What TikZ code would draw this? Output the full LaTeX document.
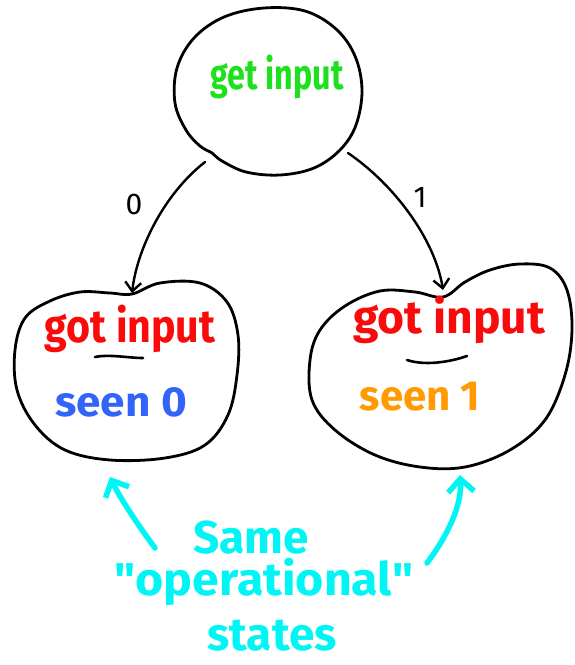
\documentclass[tikz,border=0pt]{standalone}
\usepackage{fontspec}
\setmainfont{Fira Sans}
\usetikzlibrary{arrows.meta}
\definecolor{hgreen}{RGB}{30,225,30}
\definecolor{hred}{RGB}{250,10,10}
\definecolor{hblue}{RGB}{50,100,250}
\definecolor{horange}{RGB}{255,155,0}
\definecolor{hcyan}{RGB}{0,245,245}
\tikzset{
  blob/.style={draw=black, line width=2.8pt, line join=round},
  conn/.style={draw=black, line width=2.4pt, line cap=round, -{Straight Barb[length=9pt,width=16pt,line width=2.4pt]}},
  cyanarrow/.style={draw=hcyan, line width=5.5pt, line cap=round, -{Straight Barb[length=13pt,width=26pt,line width=5.5pt]}},
  txt/.style={inner sep=0pt, font=\fontsize{34}{40}\selectfont\bfseries},
  big/.style={inner sep=0pt, font=\fontsize{42}{48}\selectfont\bfseries},
  lbl/.style={inner sep=0pt, font=\fontsize{30}{34}\selectfont},
  note/.style={inner sep=0pt, text=hcyan, font=\fontsize{46}{50}\selectfont\bfseries},
  uline/.style={draw=black, line width=2.6pt, line cap=round}
}
\begin{document}
\begin{tikzpicture}[x=1pt,y=-1pt]
\useasboundingbox (0,0) rectangle (574,665);
% blobs
\draw[blob] plot[smooth cycle, tension=0.6] coordinates {(212,153) (200,146) (186,130) (175,103) (177,68) (194,38) (224,17) (264,8) (305,11) (336,29) (355,56) (362,90) (356,125) (340,150) (314,168) (280,175) (246,172) (222,161)};
\draw[blob] plot[smooth cycle, tension=0.6] coordinates {(132,294) (160,283) (200,283) (227,302) (238,335) (237,375) (228,415) (205,445) (165,458) (110,460) (65,450) (35,425) (17,390) (15,350) (25,318) (50,301) (80,292) (110,293)};
\draw[blob] plot[smooth cycle, tension=0.6] coordinates {(443,297) (465,282) (490,270) (520,264) (550,268) (567,290) (572,330) (565,375) (545,420) (510,450) (465,467) (420,467) (375,455) (335,430) (312,400) (310,360) (320,330) (345,306) (380,291) (415,292)};
% texts
\node[txt, text=hgreen] (top) at (277,77) {\scalebox{0.95}[1.25]{get input}};
\node[big, text=hred] (lgot) at (130,329) {\scalebox{0.98}[1.1]{got input}};
\node[big, text=hblue] (lseen) at (121,402) {\scalebox{1.05}[1]{seen 0}};
\node[big, text=hred] (rgot) at (449,320) {\scalebox{1.1}[1.1]{got input}};
\node[big, text=horange] (rseen) at (420,397) {\scalebox{1.0}[1]{seen 1}};
% underlines
\coordinate (lu1) at (95,357); \coordinate (lu2) at (143,358);
\coordinate (ru1) at (407,360); \coordinate (ru2) at (467,356);
\draw[uline] (lu1) .. controls (110,354) and (128,358) .. (lu2);
\draw[uline] (ru1) .. controls (425,366) and (450,362) .. (ru2);
% connector anchor points
\coordinate (topL) at (205,162);
\coordinate (topR) at (348,153);
\coordinate (leftIn) at (132,293);
\coordinate (rightIn) at (443,290);
\draw[conn] (topL) .. controls (163,195) and (137,250) .. (leftIn);
\draw[conn] (topR) .. controls (395,185) and (435,240) .. (rightIn);
\node[lbl] (l0) at (134,204) {0};
\node[lbl] (l1) at (420,197) {1};
% note
\node[note] (same) at (251,538) {Same};
\node[note] (oper) at (264,582) {\scalebox{1.05}[1]{\textquotedbl operational\textquotedbl}};
\node[note] (states) at (272,636) {states};
\coordinate (cl1) at (155,548); \coordinate (cl2) at (110,477);
\coordinate (cr1) at (427,563); \coordinate (cr2) at (460,475);
\draw[cyanarrow] (cl1) .. controls (138,525) and (120,498) .. (cl2);
\draw[cyanarrow] (cr1) .. controls (448,535) and (462,505) .. (cr2);
\end{tikzpicture}
\end{document}
